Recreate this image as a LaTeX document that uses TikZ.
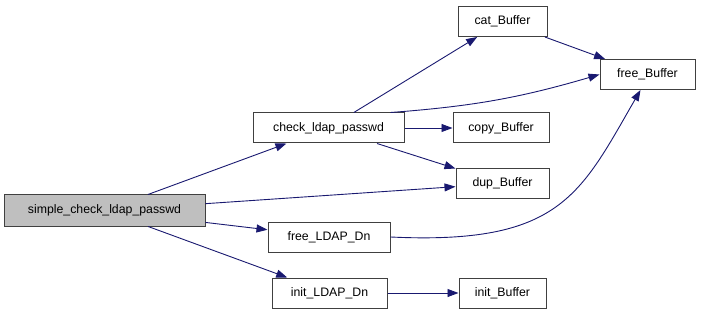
\documentclass[tikz,border=0pt]{standalone}
\usepackage{fontspec}
\setmainfont{Liberation Sans}
\usetikzlibrary{arrows.meta}
\definecolor{edgeblue}{HTML}{191970}
\definecolor{boxgray}{HTML}{BFBFBF}
\definecolor{linegray}{HTML}{404040}

\begin{document}
\begin{tikzpicture}[x=1pt,y=1pt,
    every node/.style={font=\fontsize{12.3}{15}\selectfont},
    fn/.style={draw=linegray,line width=1pt,rectangle,
      minimum height=30pt,inner sep=0pt},
    edge/.style={draw=edgeblue,line width=0.9pt,
      -{Triangle[length=11pt,width=8pt]}}]
  \useasboundingbox (0,0) rectangle (701,-315);

  % Caller on the left
  \node[fn,fill=boxgray,minimum width=201pt,minimum height=31pt] (simple)
    at (104.5,-210.5) {simple\_check\_ldap\_passwd};

  % Middle column
  \node[fn,minimum width=151pt] (check) at (328.5,-128) {check\_ldap\_passwd};
  \node[fn,minimum width=122pt] (freeldap) at (329,-237) {free\_LDAP\_Dn};
  \node[fn,minimum width=115pt] (initldap) at (329.5,-293) {init\_LDAP\_Dn};

  % Buffer functions
  \node[fn,minimum width=89pt] (cat) at (502.5,-21.5) {cat\_Buffer};
  \node[fn,minimum width=96pt] (copy) at (501,-128) {copy\_Buffer};
  \node[fn,minimum width=93pt] (dup) at (502.5,-183.5) {dup\_Buffer};
  \node[fn,minimum width=87pt] (initbuf) at (502.5,-293) {init\_Buffer};
  \node[fn,minimum width=95pt] (free) at (647.5,-74.5) {free\_Buffer};

  % Straight calls
  \foreach \a/\b in {simple/check,simple/dup,simple/freeldap,simple/initldap,
      check/cat,check/copy,check/dup,cat/free,initldap/initbuf}{
    \draw[edge] (\a) -- (\b);
  }

  % Curved calls into free_Buffer
  \draw[edge] ([xshift=-14pt]check.north east) to[bend right=6] (free.west);
  \draw[edge] (freeldap.east) .. controls (560,-245) and (580,-195)
    .. ([xshift=-7pt]free.south);
\end{tikzpicture}
\end{document}
